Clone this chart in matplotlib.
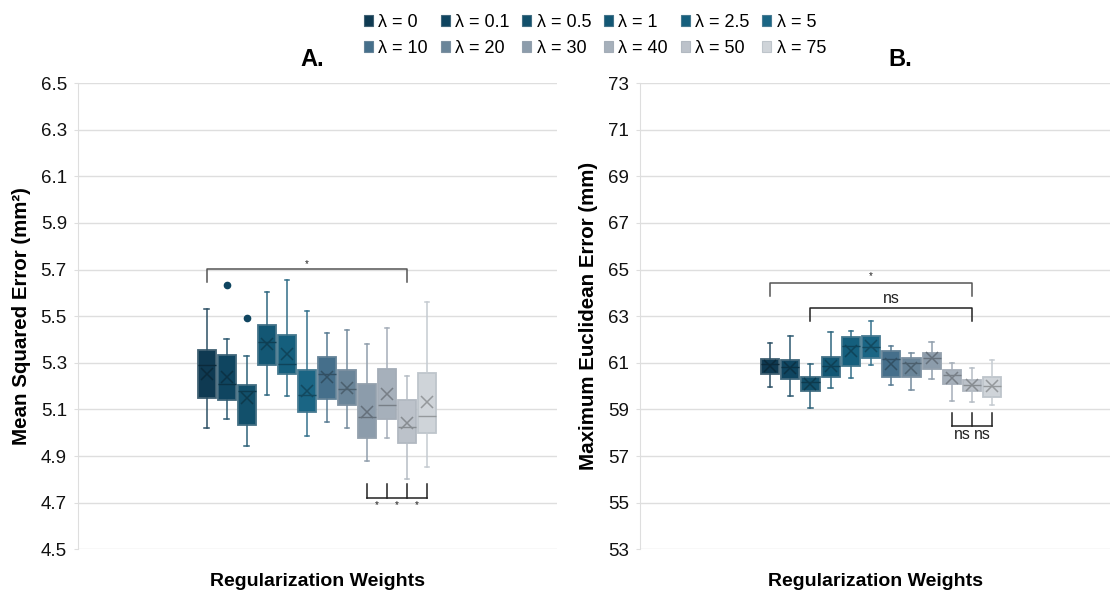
import numpy as np
import matplotlib
matplotlib.use("Agg")
import matplotlib.pyplot as plt
from matplotlib.patches import Patch
from matplotlib.colors import to_rgb

plt.rcParams['font.family'] = ['Liberation Sans', 'DejaVu Sans']

# Regularization weights (one box per weight)
weights = ['0', '0.1', '0.5', '1', '2.5', '5', '10', '20', '30', '40', '50', '75']
colors = ['#0f3a52', '#0f4560', '#12506b', '#135774', '#155f7d', '#1a6584',
          '#456f8b', '#6a8599', '#8c9cab', '#a6b0bb', '#bcc2ca', '#cfd4d9']

# A. Mean squared error (mm²)
mse_low = [5.021, 5.060, 4.943, 5.160, 5.157, 4.986, 5.046, 5.019, 4.880, 4.977, 4.801, 4.854]
mse_q1 = [5.150, 5.140, 5.034, 5.289, 5.250, 5.089, 5.146, 5.117, 4.976, 5.057, 4.956, 4.999]
mse_med = [5.289, 5.207, 5.180, 5.387, 5.293, 5.160, 5.254, 5.186, 5.069, 5.121, 5.026, 5.070]
mse_q3 = [5.353, 5.333, 5.203, 5.461, 5.421, 5.267, 5.324, 5.267, 5.210, 5.273, 5.140, 5.256]
mse_high = [5.529, 5.404, 5.329, 5.604, 5.657, 5.521, 5.429, 5.440, 5.379, 5.451, 5.244, 5.559]
mse_mean = [5.253, 5.241, 5.147, 5.381, 5.339, 5.181, 5.241, 5.193, 5.090, 5.167, 5.041, 5.133]
mse_outliers = [[], [5.633], [5.491], [], [], [], [], [], [], [], [], []]

# B. Maximum Euclidean error (mm)
mee_low = [59.94, 59.59, 59.06, 59.91, 60.34, 60.89, 60.03, 59.83, 60.29, 59.36, 59.31, 59.19]
mee_q1 = [60.50, 60.30, 59.79, 60.40, 60.87, 61.19, 60.39, 60.40, 60.73, 60.07, 59.79, 59.53]
mee_med = [60.94, 60.83, 60.16, 60.87, 61.70, 61.69, 61.16, 60.97, 61.19, 60.47, 60.04, 59.99]
mee_q3 = [61.16, 61.11, 60.39, 61.23, 62.09, 62.16, 61.51, 61.19, 61.44, 60.67, 60.26, 60.40]
mee_high = [61.86, 62.13, 60.96, 62.30, 62.37, 62.79, 61.71, 61.43, 61.87, 60.99, 60.77, 61.14]
mee_mean = [60.87, 60.79, 60.09, 60.87, 61.49, 61.70, 60.93, 60.79, 61.19, 60.36, 60.03, 60.01]
mee_outliers = [[] for _ in weights]


def blend(c, other, t):
    a = np.array(to_rgb(c))
    b = np.array(to_rgb(other))
    return tuple((1 - t) * a + t * b)


def make_stats(low, q1, med, q3, high, mean, outliers):
    return [dict(whislo=lo, q1=a, med=m, q3=b, whishi=hi, mean=mu, fliers=fl)
            for lo, a, m, b, hi, mu, fl in zip(low, q1, med, q3, high, mean, outliers)]


def draw_boxes(ax, stats):
    pos = np.arange(len(stats))
    art = ax.bxp(stats, positions=pos, widths=0.9, patch_artist=True,
                 showmeans=True, showfliers=True, capwidths=0.22,
                 manage_ticks=False, zorder=3)
    for i, c in enumerate(colors):
        edge = blend(c, '#9fa8b0', 0.35)
        whisk = blend(c, '#9fa8b0', 0.2)
        dark = blend(c, '#000000', 0.28)
        box = art['boxes'][i]
        box.set_facecolor(c)
        box.set_edgecolor(edge)
        box.set_linewidth(1.3)
        for ln in art['whiskers'][2 * i:2 * i + 2] + art['caps'][2 * i:2 * i + 2]:
            ln.set_color(whisk)
            ln.set_linewidth(1.1)
        med = art['medians'][i]
        med.set_color(dark)
        med.set_linewidth(1.0)
        mn = art['means'][i]
        mn.set_marker('x')
        mn.set_markersize(8)
        mn.set_markeredgewidth(1.1)
        mn.set_markeredgecolor(dark)
        mn.set_markerfacecolor('none')
        fl = art['fliers'][i]
        fl.set_marker('o')
        fl.set_markersize(4.5)
        fl.set_markerfacecolor(colors[1])
        fl.set_markeredgecolor(colors[1])


def style_axis(ax, ylim, ticks, ylabel, title, title_x, xlim):
    ax.set_ylim(*ylim)
    ax.set_xlim(*xlim)
    ax.set_yticks(ticks)
    ax.set_yticklabels([f'{t:g}' if float(t).is_integer() else f'{t:.1f}' for t in ticks])
    ax.set_xticks([])
    ax.grid(axis='y', color='#dedede', linewidth=1.0, zorder=0)
    ax.set_axisbelow(True)
    for s in ['top', 'right', 'bottom']:
        ax.spines[s].set_visible(False)
    ax.spines['left'].set_color('#dedede')
    ax.tick_params(axis='y', length=3, color='#dedede', pad=5, labelsize=13.5, labelcolor='#111111')
    ax.set_ylabel(ylabel, fontsize=14.8, fontweight='bold', labelpad=7)
    ax.set_xlabel('Regularization Weights', fontsize=14, fontweight='bold', labelpad=17)
    ax.set_title(title, fontsize=17, fontweight='bold', pad=12, x=title_x)


def bracket(ax, i, j, y_line, y_tip, label, y_text, color, fs):
    ax.plot([i, i, j, j], [y_tip, y_line, y_line, y_tip], color=color, lw=1.1, zorder=4)
    ax.text((i + j) / 2, y_text, label, ha='center', va='center', fontsize=fs, color='#222222')


def comb(ax, idx, y_line, y_tip, labels, y_text, color, fs):
    ax.plot([idx[0], idx[-1]], [y_line, y_line], color=color, lw=1.1, zorder=4)
    for k in idx:
        ax.plot([k, k], [y_line, y_tip], color=color, lw=1.1, zorder=4)
    for a, b, lab in zip(idx[:-1], idx[1:], labels):
        ax.text((a + b) / 2, y_text, lab, ha='center', va='center', fontsize=fs, color='#222222')


fig = plt.figure(figsize=(11.1, 5.9), dpi=100)
axA = fig.add_axes([0.0703, 0.069, 0.4315, 0.7903])
axB = fig.add_axes([0.5766, 0.069, 0.4234, 0.7903])

draw_boxes(axA, make_stats(mse_low, mse_q1, mse_med, mse_q3, mse_high, mse_mean, mse_outliers))
style_axis(axA, (4.5, 6.5), np.round(np.arange(4.5, 6.51, 0.2), 1),
           'Mean Squared Error (mm²)', 'A.', 0.489, (-6.42, 17.49))
bracket(axA, 0, 10, 5.704, 5.646, '*', 5.725, '#555555', 7)
comb(axA, [8, 9, 10, 11], 4.721, 4.781, ['*', '*', '*'], 4.69, '#222222', 7)

draw_boxes(axB, make_stats(mee_low, mee_q1, mee_med, mee_q3, mee_high, mee_mean, mee_outliers))
style_axis(axB, (53, 73), np.arange(53, 74, 2),
           'Maximum Euclidean Error (mm)', 'B.', 0.553, (-6.44, 16.83))
bracket(axB, 0, 10, 64.414, 63.843, '*', 64.7, '#555555', 7)
bracket(axB, 2, 10, 63.371, 62.771, 'ns', 63.75, '#222222', 11.5)
comb(axB, [9, 10, 11], 58.271, 58.843, ['ns', 'ns'], 57.94, '#222222', 11.5)

# legend laid out row by row: six weights per row
handles = [Patch(facecolor=c, edgecolor=blend(c, '#9fa8b0', 0.35), linewidth=0.8) for c in colors]
labels = [f'λ = {w}' for w in weights]
order = [k for col in range(6) for k in (col, col + 6)]
fig.legend([handles[k] for k in order], [labels[k] for k in order], ncol=6,
           loc='upper center', bbox_to_anchor=(0.536, 0.998),
           frameon=False, fontsize=13, handlelength=0.5, handleheight=0.5,
           handletextpad=0.3, columnspacing=0.7, labelspacing=0.5, borderpad=0.2)

fig.savefig('out.png', dpi=100)
